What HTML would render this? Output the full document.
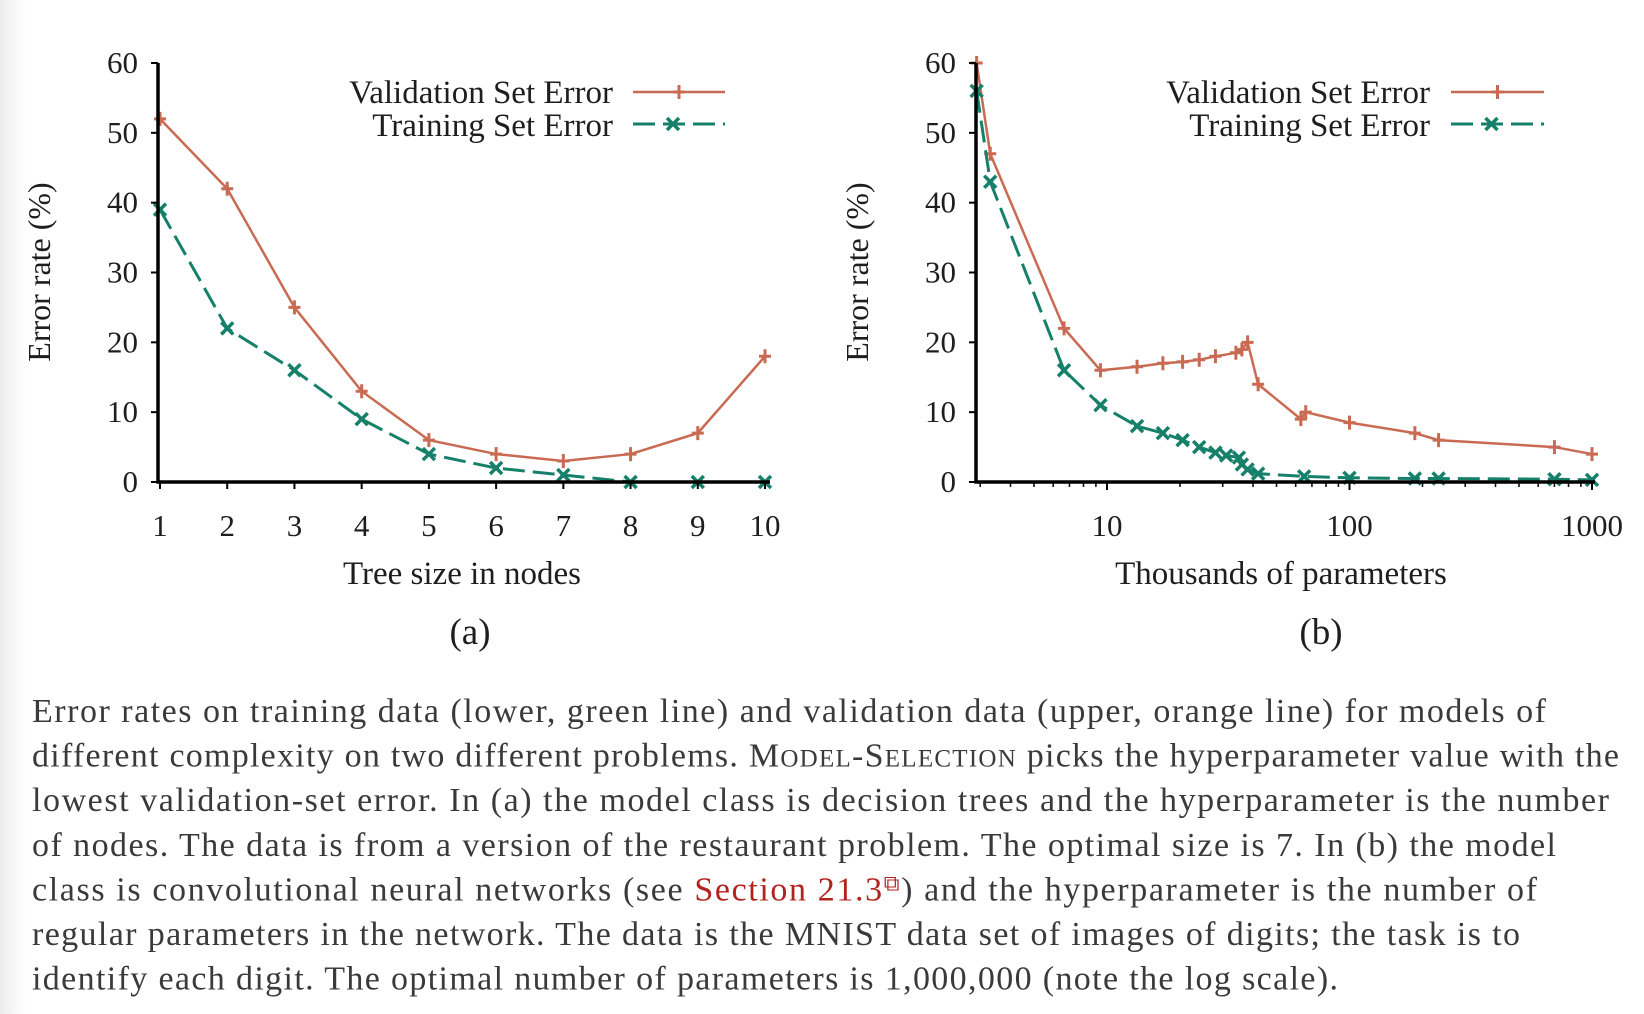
<!DOCTYPE html>
<html><head><meta charset="utf-8"><style>
html,body{margin:0;padding:0;background:#fff;}
body{width:1644px;height:1014px;overflow:hidden;position:relative;font-family:"Liberation Serif",serif;}
#strip{position:absolute;left:0;top:0;width:26px;height:1014px;background:linear-gradient(to right,#ececec,#fff);}
svg{position:absolute;left:0;top:0;font-family:"Liberation Serif",serif;}
</style></head><body>
<div id="strip"></div>
<svg id="fig" width="1644" height="1014"></svg>
<script>
const aX=[1,2,3,4,5,6,7,8,9,10];
const aVal=[52,42,25,13,6,4,3,4,7,18];
const aTrain=[39,22,16,9,4,2,1,0,0,0];
const bValX=[2.9,3.3,6.65,9.4,13.3,17,20.5,24,28,34,36,38,42,63,66,100,186,233,700,1000];
const bVal=[60,47,22,16,16.5,17,17.2,17.5,18,18.5,19,20,14,9,10,8.5,7,6,5,4];
const bTrainX=[2.9,3.3,6.65,9.4,13.3,17,20.5,24,28,31,35,36,38,42,65,100,186,233,700,1000];
const bTrain=[56,43,16,11,8,7,6,5,4.2,3.8,3.5,2.5,1.8,1.2,0.8,0.6,0.5,0.5,0.4,0.3];
const yTicks=[0,10,20,30,40,50,60];
const bXTicks=[10,100,1000];
const bXTickLabels=["10","100","1000"];

const NS="http://www.w3.org/2000/svg";
const svg=document.getElementById('fig');
function mk(tag,attrs,parent){const e=document.createElementNS(NS,tag);for(const k in attrs)e.setAttribute(k,attrs[k]);(parent||svg).appendChild(e);return e;}
const ORANGE="#c96a52", GREEN="#16806a", TXT="#1e1e1e";
const Y0=482, Y60=63;
function yS(v){return Y0+(Y60-Y0)*v/60;}
function xA(v){return 160+(v-1)*(765-160)/9;}
function xB(v){return 1107+(Math.log10(v)-1)*242.5;}

function plusMark(g,x,y,c){const p=mk('path',{d:`M${x-6},${y}H${x+6}M${x},${y-7}V${y+7}`,stroke:c,'stroke-width':3,fill:'none'},g);}
function xMark(g,x,y,c){const p=mk('path',{d:`M${x-6},${y-6}L${x+6},${y+6}M${x-6},${y+6}L${x+6},${y-6}M${x-3},${y}H${x+3}`,stroke:c,'stroke-width':3.5,fill:'none'},g);}

function drawChart(id,xf,axisX,xEnd,valX,val,trX,tr,legTextRight,legL,legR,ytitleX){
  const g=mk('g',{});
  
  
  const vp=mk('path',{d:valX.map((x,i)=>(i?'L':'M')+xf(x)+','+yS(val[i])).join(''),stroke:ORANGE,'stroke-width':2.5,fill:'none'},g);
  
  
  valX.forEach((x,i)=>plusMark(g,xf(x),yS(val[i]),ORANGE));
  const tp=mk('path',{d:trX.map((x,i)=>(i?'L':'M')+xf(x)+','+yS(tr[i])).join(''),stroke:GREEN,'stroke-width':3,fill:'none','stroke-dasharray':'22 8'},g);
  
  
  trX.forEach((x,i)=>xMark(g,xf(x),yS(tr[i]),GREEN));
  const ax=mk('path',{d:`M${axisX},${Y60}V${Y0}H${xEnd}`,stroke:'#000','stroke-width':3.5,fill:'none'},g);
  
  
  yTicks.forEach(v=>{
    mk('path',{d:`M${axisX-7},${yS(v)}H${axisX}`,stroke:'#000','stroke-width':2},g);
    const t=mk('text',{x:axisX-20,y:yS(v)+10,'text-anchor':'end','font-size':31,fill:TXT},g);
    t.textContent=v;
    
    
  });
  const yt=mk('text',{x:ytitleX,y:272,'text-anchor':'middle','font-size':32,fill:TXT,transform:`rotate(-90 ${ytitleX} 272)`},g);
  yt.textContent='Error rate (%)';
  
  
  const l1=mk('text',{x:legTextRight,y:103,'text-anchor':'end','font-size':33,fill:TXT},g);
  l1.textContent='Validation Set Error';
  
  
  const l2=mk('text',{x:legTextRight,y:136,'text-anchor':'end','font-size':33,fill:TXT},g);
  l2.textContent='Training Set Error';
  
  
  mk('path',{d:`M${legL},92H${legR}`,stroke:ORANGE,'stroke-width':2.5},g);
  plusMark(g,(legL+legR)/2,92,ORANGE);
  mk('path',{d:`M${legL},124H${legR}`,stroke:GREEN,'stroke-width':3,'stroke-dasharray':'22 8'},g);
  xMark(g,(legL+legR)/2-6,124,GREEN);
  return g;
}
const ga=drawChart('chart-a',xA,158,770,aX,aVal,aX,aTrain,613,633,725,50);
aX.forEach(v=>{
  mk('path',{d:`M${xA(v)},${Y0}V${Y0+7}`,stroke:'#000','stroke-width':2},ga);
  const t=mk('text',{x:xA(v),y:536,'text-anchor':'middle','font-size':31,fill:TXT},ga);
  t.textContent=v;
  
  
});
const gb=drawChart('chart-b',xB,976,1595,bValX,bVal,bTrainX,bTrain,1430,1451,1544,868);
[3,4,5,6,7,8,9,20,30,40,50,60,70,80,90,200,300,400,500,600,700,800,900].forEach(v=>{
  mk('path',{d:`M${xB(v)},${Y0}V${Y0+5}`,stroke:'#000','stroke-width':1.5},gb);
});
bXTicks.forEach((v,i)=>{
  mk('path',{d:`M${xB(v)},${Y0}V${Y0+8}`,stroke:'#000','stroke-width':2},gb);
  const t=mk('text',{x:xB(v),y:536,'text-anchor':'middle','font-size':31,fill:TXT},gb);
  t.textContent=bXTickLabels[i];
  
  
});
function label(txt,x,y,fs,name){const t=mk('text',{x:x,y:y,'text-anchor':'middle','font-size':fs,fill:TXT});t.textContent=txt;}
label('Tree size in nodes',462,584,33,'x-axis-title-a');
label('Thousands of parameters',1281,584,33,'x-axis-title-b');
label('(a)',470,644,37,'panel-label-a');
label('(b)',1321,644,37,'panel-label-b');

const lines=[
 ['Error rates on training data (lower, green line) and validation data (upper, orange line) for models of',1546],
 ['SC',1619],
 ['lowest validation-set error. In (a) the model class is decision trees and the hyperparameter is the number',1609],
 ['of nodes. The data is from a version of the restaurant problem. The optimal size is 7. In (b) the model',1556],
 ['LINK',1537],
 ['regular parameters in the network. The data is the MNIST data set of images of digits; the task is to',1520],
 ['identify each digit. The optimal number of parameters is 1,000,000 (note the log scale).',1338]
];
const cg=mk('g',{});


lines.forEach((L,i)=>{
  const y=722+i*44.6;
  const t=mk('text',{x:32,y:y,'font-size':34,fill:'#3a3a3a',textLength:L[1]-32,lengthAdjust:'spacing'},cg);
  
  
  if(L[0]==='SC'){
    t.innerHTML='different complexity on two different problems. M<tspan font-size="25">ODEL</tspan>-S<tspan font-size="25">ELECTION</tspan> picks the hyperparameter value with the';
  } else if(L[0]==='LINK'){
    t.innerHTML='class is convolutional neural networks (see <tspan fill="#b3231e">Section 21.3</tspan><tspan fill="#b3231e" font-size="22" dy="-10">&#x29C9;</tspan><tspan dy="10">) and the hyperparameter is the number of</tspan>';
  } else t.textContent=L[0];
});
</script>
</body></html>
